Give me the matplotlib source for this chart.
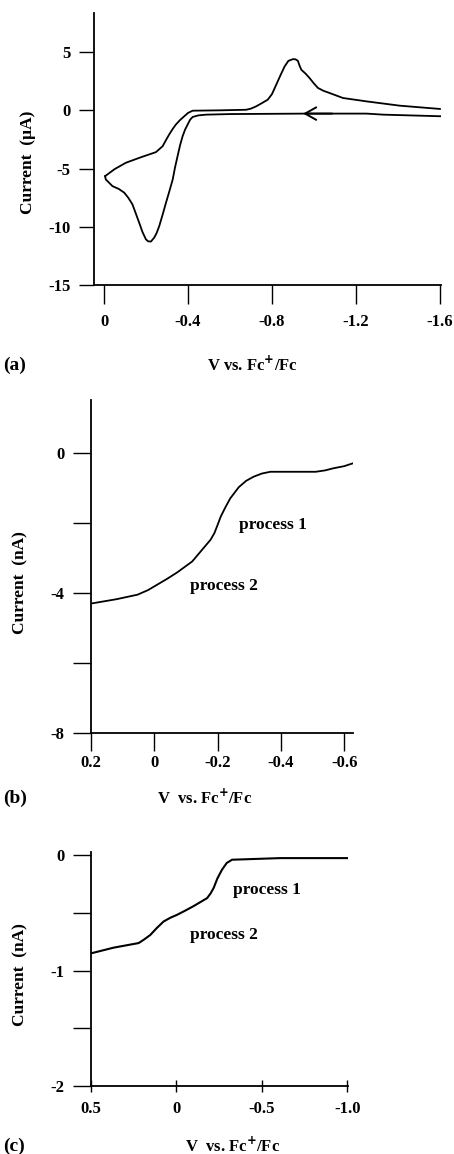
import matplotlib
matplotlib.use('Agg')
import matplotlib.pyplot as plt

plt.rcParams['font.family'] = ['Liberation Serif', 'DejaVu Serif']
plt.rcParams['font.weight'] = 'bold'

# (a) cyclic voltammogram, V vs Fc+/Fc and current in uA
cv_forward_v = [-0.005, -0.05, -0.104, -0.18, -0.247, -0.279, -0.295, -0.31, -0.326, -0.342,
                -0.362, -0.382, -0.40, -0.422, -0.55, -0.677, -0.70, -0.724, -0.75, -0.78,
                -0.80, -0.82, -0.84, -0.86, -0.878, -0.90, -0.912, -0.923, -0.932, -0.94,
                -0.96, -0.979, -1.0, -1.019, -1.045, -1.074, -1.138, -1.25, -1.409, -1.60]
cv_forward_i = [-5.65, -5.05, -4.50, -4.00, -3.59, -3.08, -2.55, -2.08, -1.62, -1.22,
                -0.83, -0.51, -0.22, -0.03, 0.0, 0.05, 0.15, 0.34, 0.60, 0.92,
                1.40, 2.2, 3.00, 3.77, 4.25, 4.40, 4.38, 4.26, 3.80, 3.48,
                3.15, 2.77, 2.30, 1.92, 1.68, 1.49, 1.06, 0.77, 0.40, 0.12]
cv_reverse_v = [-1.608, -1.33, -1.25, -0.963, -0.60, -0.486, -0.45, -0.422, -0.41, -0.398,
                -0.386, -0.374, -0.362, -0.35, -0.338, -0.327, -0.311, -0.295, -0.279, -0.263,
                -0.25, -0.239, -0.223, -0.21, -0.199, -0.183, -0.167, -0.15, -0.135, -0.115,
                -0.096, -0.07, -0.04, -0.008, -0.005]
cv_reverse_i = [-0.51, -0.37, -0.28, -0.28, -0.32, -0.37, -0.43, -0.57, -0.80, -1.22,
                -1.65, -2.23, -3.00, -3.94, -4.90, -5.93, -6.95, -7.93, -8.95, -9.93,
                -10.55, -10.93, -11.27, -11.25, -11.07, -10.45, -9.64, -8.80, -8.07, -7.50,
                -7.07, -6.75, -6.51, -5.93, -5.65]

# (b) steady-state voltammogram, nA
b_v = [0.198, 0.12, 0.053, 0.02, -0.01, -0.04, -0.073, -0.12, -0.162, -0.178,
       -0.19, -0.20, -0.21, -0.225, -0.24, -0.267, -0.29, -0.314, -0.34, -0.367,
       -0.51, -0.54, -0.566, -0.60, -0.627]
b_i = [-4.30, -4.18, -4.05, -3.92, -3.76, -3.60, -3.41, -3.10, -2.65, -2.48,
       -2.29, -2.06, -1.82, -1.55, -1.30, -0.98, -0.80, -0.68, -0.59, -0.54,
       -0.54, -0.50, -0.44, -0.38, -0.30]

# (c) steady-state voltammogram, nA
c_v = [0.494, 0.368, 0.221, 0.19, 0.153, 0.115, 0.075, 0.035, -0.004, -0.05,
       -0.10, -0.18, -0.20, -0.218, -0.24, -0.267, -0.295, -0.326, -0.609, -1.005]
c_i = [-0.847, -0.80, -0.76, -0.73, -0.69, -0.63, -0.573, -0.54, -0.515, -0.48,
       -0.44, -0.37, -0.33, -0.283, -0.20, -0.124, -0.065, -0.037, -0.023, -0.023]

a_xticks = [0, -0.4, -0.8, -1.2, -1.6]
a_xlabels = ['0', '-0.4', '-0.8', '-1.2', '-1.6']
a_yticks = [5, 0, -5, -10, -15]
b_xticks = [0.2, 0, -0.2, -0.4, -0.6]
b_xlabels = ['0.2', '0', '-0.2', '-0.4', '-0.6']
b_yticks = [0, -2, -4, -6, -8]
b_ylabels = ['0', '', '-4', '', '-8']
c_xticks = [0.5, 0, -0.5, -1.0]
c_xlabels = ['0.5', '0', '-0.5', '-1.0']
c_yticks = [0, -0.5, -1, -1.5, -2]
c_ylabels = ['0', '', '-1', '', '-2']

W, H = 454, 1154
fig = plt.figure(figsize=(W / 100, H / 100), dpi=100)

FS = 12


def box(left, top, right, bottom):
    return [left / W, 1 - bottom / H, (right - left) / W, (bottom - top) / H]


def ftext(x, y, s, **kw):
    fig.text(x / W, 1 - y / H, s, **kw)


def style(ax, xlen, xpad, ylen, ypad, xdir='out'):
    for s in ['top', 'right']:
        ax.spines[s].set_visible(False)
    for s in ['left', 'bottom']:
        ax.spines[s].set_linewidth(1.3)
    ax.tick_params(axis='x', direction=xdir, length=xlen, pad=xpad, width=1.0, labelsize=FS)
    ax.tick_params(axis='y', direction='out', length=ylen, pad=ypad, width=1.0, labelsize=FS)
    for lab in ax.get_xticklabels() + ax.get_yticklabels():
        lab.set_fontweight('bold')


def vlabel(x, y, s):
    # V vs. Fc+/Fc with a small raised plus
    fig.text(x / W, 1 - y / H, s, ha='center', va='center', fontsize=FS, fontweight='bold')


# panel (a)
ax1 = fig.add_axes(box(94, 13, 441, 285))
ax1.plot(cv_forward_v, cv_forward_i, color='black', lw=1.3)
ax1.plot(cv_reverse_v, cv_reverse_i, color='black', lw=1.3)
ax1.annotate('', xy=(-0.935, -0.28), xytext=(-1.1, -0.28),
             arrowprops=dict(arrowstyle='->,head_length=0.8,head_width=0.45', lw=1.4, color='black'))
ax1.set_xlim(0.048, -1.605)
ax1.set_ylim(-15, 8.36)
ax1.set_xticks(a_xticks)
ax1.set_xticklabels(a_xlabels)
ax1.set_yticks(a_yticks)
ax1.set_yticklabels([str(t) for t in a_yticks])
style(ax1, 14, 7, 11, 6)
ftext(28, 162, 'Current  (\u00b5A)', rotation=90, ha='center', va='center', fontsize=FS + 0.5, fontweight='bold')
vlabel(253, 365, 'V vs. Fc$^{+}$/Fc')
ftext(3, 365, '(a)', ha='left', va='center', fontsize=14)

# panel (b)
ax2 = fig.add_axes(box(91, 400, 353, 733))
ax2.plot(b_v, b_i, color='black', lw=1.3)
ax2.set_xlim(0.2, -0.628)
ax2.set_ylim(-8, 1.51)
ax2.set_xticks(b_xticks)
ax2.set_xticklabels(b_xlabels)
ax2.set_yticks(b_yticks)
ax2.set_yticklabels(b_ylabels)
style(ax2, 13, 3, 13, 6)
ax2.text(-0.375, -2.05, 'process 1', ha='center', va='center', fontsize=FS + 0.5, fontweight='bold')
ax2.text(-0.22, -3.8, 'process 2', ha='center', va='center', fontsize=FS + 0.5, fontweight='bold')
ftext(20, 583, 'Current  (nA)', rotation=90, ha='center', va='center', fontsize=FS + 0.5, fontweight='bold')
vlabel(205, 798, 'V  vs. Fc$^{+}$/Fc')
ftext(3, 798, '(b)', ha='left', va='center', fontsize=14)

# panel (c)
ax3 = fig.add_axes(box(91, 852, 348, 1086))
ax3.plot(c_v, c_i, color='black', lw=1.5)
ax3.set_xlim(0.5, -1.005)
ax3.set_ylim(-2, 0.03)
ax3.set_xticks(c_xticks)
ax3.set_xticklabels(c_xlabels)
ax3.set_yticks(c_yticks)
ax3.set_yticklabels(c_ylabels)
style(ax3, 8, 7, 13, 6, xdir='inout')
ax3.text(-0.53, -0.3, 'process 1', ha='center', va='center', fontsize=FS + 0.5, fontweight='bold')
ax3.text(-0.28, -0.69, 'process 2', ha='center', va='center', fontsize=FS + 0.5, fontweight='bold')
ftext(20, 975, 'Current  (nA)', rotation=90, ha='center', va='center', fontsize=FS + 0.5, fontweight='bold')
vlabel(233, 1146, 'V  vs. Fc$^{+}$/Fc')
ftext(3, 1146, '(c)', ha='left', va='center', fontsize=14)

fig.savefig('out.png', dpi=100)
